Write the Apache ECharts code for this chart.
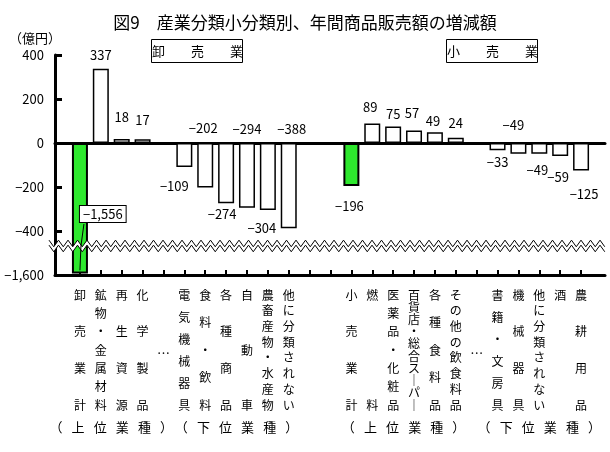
<!DOCTYPE html>
<html>
<head>
<meta charset="utf-8">
<script src="https://cdn.jsdelivr.net/npm/echarts@6/dist/echarts.min.js"></script>
<style>
html, body { margin: 0; padding: 0; background: #fff; }
#chart { width: 610px; height: 452px; }
</style>
</head>
<body>
<div id="chart"></div>
<script>
// categories along the x axis ('…' = omitted items, '' = spacer)
const categories = [
  '卸売業計', '鉱物・金属材料', '再生資源', '化学製品', '…',
  '電気機械器具', '食料・飲料', '各種商品', '自動車', '農畜産物・水産物', '他に分類されない',
  '', '',
  '小売業計', '燃料', '医薬品・化粧品', '百貨店・総合スーパー', '各種食料品', 'その他の飲食料品', '…',
  '書籍・文房具', '機械器具', '他に分類されない', '酒', '農耕用品'
]
// 増減額 (億円)
const values = [
  -1556, 337, 18, 17, null,
  -109, -202, -274, -294, -304, -388,
  null, null,
  -196, 89, 75, 57, 49, 24, null,
  -33, -49, -49, -59, -125
]
const totalIdx = [0, 13]
const yTicks = [400, 200, 0, -200, -400, -1600]
const GAP = '\u2002\u2009'
const groups = [
  { text: ['（', '上', '位', '業', '種', '）'].join(GAP), from: 0, to: 3 },
  { text: ['（', '下', '位', '業', '種', '）'].join(GAP), from: 5, to: 10 },
  { text: ['（', '上', '位', '業', '種', '）'].join(GAP), from: 13, to: 18 },
  { text: ['（', '下', '位', '業', '種', '）'].join(GAP), from: 20, to: 24 }
]

// where each value label sits: [position, dx, dy]
const labelPlace = [
  null, ['top', 0, -2], ['top', 0, -10], ['top', 0, -8], null,
  ['bottom', -10, 8], ['top', -2, -3], ['bottom', -4, -1], ['top', 0, -2], ['bottom', -6, 7], ['top', 3, -2],
  null, null,
  ['bottom', -2, 8], ['top', -2, -5], ['top', 0, -1], ['top', -2, -6], ['top', -2, 0], ['top', 0, -3], null,
  ['bottom', 0, 0], ['top', -5, -6], ['bottom', -2, 5], ['bottom', -2, 10], ['bottom', 3, 12]
]

const FONT = '"Noto Sans CJK JP", sans-serif'
const GREEN = '#2ee82e'

// broken scale: below -400 the axis is squeezed (-400..-1600 drawn as one 200 step)
const BREAK_FROM = -400
const BREAK_BOTTOM = -1600
const SQUEEZE = 200 / (BREAK_FROM - BREAK_BOTTOM)
const BREAK_MARK = -468
const toAxis = v => v >= BREAK_FROM ? v : BREAK_FROM + (v - BREAK_FROM) * SQUEEZE
const fromAxis = a => a >= BREAK_FROM ? a : BREAK_FROM + (a - BREAK_FROM) / SQUEEZE
const fmt = v => (v < 0 ? '\u2212' : '') + Math.abs(v).toLocaleString('en-US')

// stacked vertical category names, spread over the same height
const SPAN = 110
const rich = {
  c: { fontSize: 12, lineHeight: 12, fontFamily: FONT, color: '#000' },
  dot: { fontSize: 13, fontFamily: FONT, color: '#000', padding: [58, 0, 0, 0] }
}
for (let n = 2; n <= 12; n++) {
  rich['g' + n] = { fontSize: 1, lineHeight: Math.max(0.2, SPAN / (n - 1) - 12) }
}
const vertical = name => {
  if (!name) return ''
  if (name === '…') return '{dot|…}'
  const chars = Array.from(name.replace(/ー/g, '｜'))
  if (chars.length === 1) return '{c|' + chars[0] + '}'
  return chars.map(ch => '{c|' + ch + '}').join('\n{g' + chars.length + '| }\n')
}

const barData = values.map((v, i) => {
  if (v == null) return null
  const item = {
    value: toAxis(v),
    itemStyle: { color: totalIdx.includes(i) ? GREEN : '#fff', borderWidth: totalIdx.includes(i) ? 2 : 1.5 }
  }
  if (i === 0) {
    item.label = {
      show: true, position: [8, 63],
      backgroundColor: '#fff', borderColor: '#000', borderWidth: 1, padding: [2, 3, 1, 3]
    }
  } else if (labelPlace[i]) {
    const [pos, dx, dy] = labelPlace[i]
    item.label = { show: true, position: pos, offset: [dx, dy] }
  }
  return item
})

const chart = echarts.init(document.getElementById('chart'))

const option = {
  animation: false,
  backgroundColor: '#fff',
  textStyle: { fontFamily: FONT },
  title: [
    {
      text: '図9\u3000産業分類小分類別、年間商品販売額の増減額',
      left: 'center', top: 9,
      textStyle: { fontSize: 17, fontWeight: 'normal', color: '#000', fontFamily: FONT }
    },
    {
      text: '（億円）', left: 4, top: 27,
      textStyle: { fontSize: 13, fontWeight: 'normal', color: '#000', fontFamily: FONT }
    },
    {
      text: '卸\u2003\u2003売\u2003\u2003業', left: 151, top: 39,
      borderColor: '#000', borderWidth: 1, padding: [4, 0, 4, 1],
      textStyle: { fontSize: 13, lineHeight: 16, fontWeight: 'normal', color: '#000', fontFamily: FONT }
    },
    {
      text: '小\u2003\u2003売\u2003\u2003業', left: 446, top: 39,
      borderColor: '#000', borderWidth: 1, padding: [4, 0, 4, 1],
      textStyle: { fontSize: 13, lineHeight: 16, fontWeight: 'normal', color: '#000', fontFamily: FONT }
    }
  ],
  grid: [
    { left: 55, right: 5, top: 55, bottom: 177 },
    { left: 69.5, right: 18.5, top: 55, bottom: 177 }
  ],
  xAxis: [
    {
      // zero line
      gridIndex: 0, type: 'value', min: 0, max: 1, position: 'top',
      axisLine: { show: true, onZero: true, lineStyle: { color: '#000', width: 3 } },
      axisTick: { show: false }, axisLabel: { show: false }, splitLine: { show: false }
    },
    {
      // bottom line
      gridIndex: 0, type: 'value', min: 0, max: 1, position: 'bottom',
      axisLine: { show: true, onZero: false, lineStyle: { color: '#000', width: 3 } },
      axisTick: { show: false }, axisLabel: { show: false }, splitLine: { show: false }
    },
    {
      gridIndex: 1, type: 'category', data: categories, position: 'bottom',
      axisLine: { show: false, onZero: false },
      axisTick: { show: true, inside: true, length: 5, alignWithLabel: true, lineStyle: { color: '#000', width: 2 } },
      axisLabel: {
        interval: 0, margin: 14, verticalAlign: 'top',
        formatter: (value, index) => vertical(categories[index]),
        rich: rich
      }
    }
  ],
  yAxis: [
    {
      gridIndex: 0, type: 'value', min: toAxis(BREAK_BOTTOM), max: yTicks[0], interval: 200,
      axisLine: { show: true, onZero: false, lineStyle: { color: '#000', width: 3 } },
      axisTick: { show: true, inside: true, length: 7, lineStyle: { color: '#000', width: 3 } },
      axisLabel: {
        margin: 11, fontSize: 13, color: '#000', fontFamily: FONT,
        formatter: a => fmt(Math.round(fromAxis(a)))
      },
      splitLine: { show: false }
    },
    {
      gridIndex: 1, type: 'value', min: toAxis(BREAK_BOTTOM), max: yTicks[0], interval: 200, show: false
    }
  ],
  series: [
    {
      type: 'bar',
      xAxisIndex: 2, yAxisIndex: 1,
      barWidth: 16,
      data: barData,
      itemStyle: { borderColor: '#000' },
      label: {
        show: false, fontSize: 13, color: '#000', fontFamily: FONT, distance: 5,
        formatter: p => fmt(values[p.dataIndex])
      },
      z: 3
    }
  ]
}

chart.setOption(option)

// break marks, callout line and group captions
const px = (i, v) => chart.convertToPixel({ seriesIndex: 0 }, [i, v])
const x0 = chart.convertToPixel({ xAxisIndex: 1 }, 0) - 6
const x1 = chart.convertToPixel({ xAxisIndex: 1 }, 1)
const by = chart.convertToPixel({ yAxisIndex: 0 }, BREAK_MARK)
const upper = []
for (let x = x0, k = 0; x <= x1 + 0.1; x += 4.75, k++) {
  upper.push([x, by - 2.5 + (k % 2 ? 3.3 : -3.3)])
}
const lower = upper.map(p => [p[0], p[1] + 5])

const zeroY = px(0, 0)[1]
const [cx, bottomY] = px(0, toAxis(values[0]))
const groupY = 421

const graphic = [
  { type: 'polygon', z: 100, shape: { points: upper.concat(lower.slice().reverse()) }, style: { fill: '#fff', stroke: null } },
  { type: 'polyline', z: 101, shape: { points: upper }, style: { stroke: '#000', lineWidth: 1, fill: null } },
  { type: 'polyline', z: 101, shape: { points: lower }, style: { stroke: '#000', lineWidth: 1, fill: null } },
  { type: 'polyline', z: 102, shape: { points: [[cx + 4, zeroY + 81], [cx + 1, by], [cx, bottomY - 3]] }, style: { stroke: '#000', lineWidth: 1, fill: null } }
]
groups.forEach(g => {
  const a = px(g.from, 0)[0]
  const b = px(g.to, 0)[0]
  graphic.push({
    type: 'text', z: 100, x: (a + b) / 2, y: groupY,
    style: { text: g.text, fontSize: 13, fontFamily: FONT, fill: '#000', align: 'center', verticalAlign: 'top' }
  })
})
chart.setOption({ graphic: graphic })
</script>
</body>
</html>
